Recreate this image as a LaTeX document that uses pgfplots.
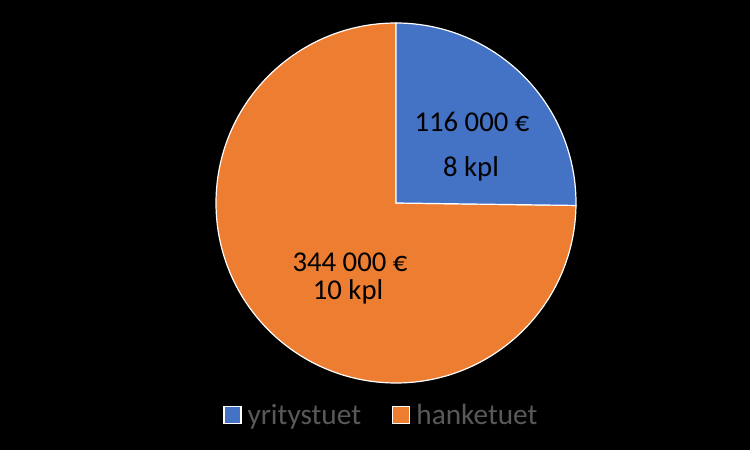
\documentclass[border=0pt]{standalone}
\usepackage{pgfplots}
\usepackage{pgfplotstable}
\pgfplotsset{compat=1.18}
\usepackage{fontspec}
\setmainfont{Carlito}
\definecolor{cblue}{HTML}{4472C4}
\definecolor{corange}{HTML}{ED7D31}
\definecolor{ltext}{HTML}{595959}
\pgfplotstableread{
name value count
yritystuet 116000 8
hanketuet 344000 10
}\datatable
\begin{document}
\begin{tikzpicture}
\pgfplotstablegetelem{0}{value}\of\datatable \let\va\pgfplotsretval
\pgfplotstablegetelem{1}{value}\of\datatable \let\vb\pgfplotsretval
\edef\angA{\fpeval{round(360*\va/(\va+\vb),4)}}
\begin{axis}[hide axis, scale only axis, width=750pt, height=450pt,
  xmin=0, xmax=750, ymin=0, ymax=450, clip=false,
  legend columns=2,
  legend style={at={(axis cs:220,35)}, anchor=west, draw=none, fill=none,
    text=ltext, font=\fontsize{29.3}{32}\selectfont,
    /tikz/every odd column/.append style={column sep=4pt},
    /tikz/every even column/.append style={column sep=29pt}},
  legend image code/.code={\draw[#1, draw=white, line width=1.3pt] (0pt,-8.5pt) rectangle (17pt,8.5pt);}]
\fill[black] (axis cs:0,0) rectangle (axis cs:750,450);
\filldraw[fill=corange, draw=white, line width=1.2pt] (axis cs:396,247) -- ++({90-\angA}:180pt)
  arc[start angle={90-\angA}, end angle=-270, radius=180pt] -- cycle;
\filldraw[fill=cblue, draw=white, line width=1.2pt] (axis cs:396,247) -- ++(90:180pt)
  arc[start angle=90, end angle={90-\angA}, radius=180pt] -- cycle;
\node[font=\fontsize{28.7}{32}\selectfont, text=black] at (axis cs:472,328) {116 000 €};
\node[font=\fontsize{28.7}{32}\selectfont, text=black] at (axis cs:471,281) {8 kpl};
\node[font=\fontsize{28.7}{32}\selectfont, text=black] at (axis cs:350,188) {344 000 €};
\node[font=\fontsize{28.7}{32}\selectfont, text=black] at (axis cs:348,158) {10 kpl};
\addlegendimage{fill=cblue}
\addlegendentry{yritystuet}
\addlegendimage{fill=corange}
\addlegendentry{hanketuet}
\end{axis}
\end{tikzpicture}
\end{document}
